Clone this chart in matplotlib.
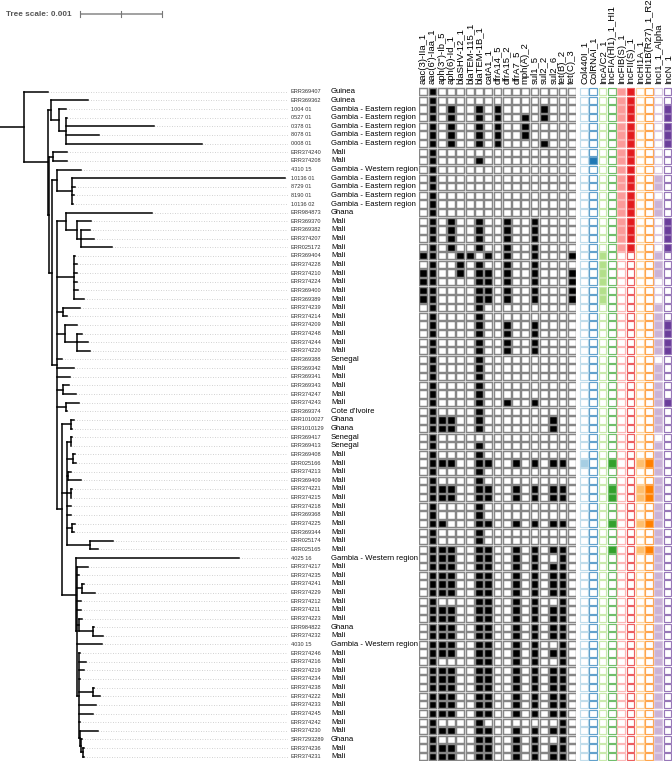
import numpy as np
import matplotlib
matplotlib.use("Agg")
import matplotlib.pyplot as plt
from matplotlib.collections import LineCollection
from matplotlib.patches import Rectangle
from matplotlib.colors import to_rgb
from matplotlib.transforms import blended_transform_factory

plt.rcParams['font.family'] = ['Liberation Sans', 'DejaVu Sans']

# tree, branch lengths in units of 1e-5 substitutions/site
UNIT = 1e-5
NEWICK = (
    "(ERR369407:30,"
    "((ERR369362:45,(1004_01:9,(0527_01:1,0378_01:107,8078_01:40,0008_01:165):9):10):4,"
    "((ERR374240:17,ERR374208:17):5,"
    "((4310_15:29,(10136_01:260,8729_01:4,8190_01:2,10136_02:1):18):6,"
    "((ERR984873:104,(ERR369370:17,(ERR369382:11,ERR374207:16,ERR025172:37):5):13):11,"
    "(ERR369404:2,ERR374228:4,ERR374210:4,ERR374224:4,ERR369400:5,ERR369389:13):20,"
    "(ERR374239:20,ERR374214:5):7,"
    "(ERR374209:15,(ERR374248:6,ERR374244:13,ERR374220:16):15):9,"
    "ERR369388:5,ERR369342:20,ERR369341:15,"
    "(ERR369343:7,ERR374247:16):7,"
    "(ERR374243:16,ERR369374:2):10,"
    "((ERR1010027:4,ERR1010129:2):11,"
    "((ERR369417:2,ERR369413:1):4,(ERR369408:2,ERR025166:4):7,(ERR374213:4,ERR369409:16):1,"
    "(ERR374221:2,ERR374215:1):4,ERR374218:4,ERR369368:5,(ERR374225:4,ERR369344:2):6,"
    "(ERR025174:28,ERR025165:9):28):7,"
    "(4025_16:198,(ERR374217:13,ERR374235:2,(ERR374241:2,ERR374229:16):6,ERR374212:5,ERR374211:5,"
    "(ERR374223:4,(ERR984822:2,ERR374232:12):17):2,4030_15:30,"
    "(ERR374246:2,ERR374216:9,ERR374219:6,ERR374234:1,(ERR374238:2,ERR374222:9):17,ERR374233:21,"
    "ERR374245:18,ERR374242:2,(ERR374230:21,(SRR7293289:1,(ERR374236:1,ERR374231:1):2):1):2):2):1):18"
    "):5):6):4):2):29):29;"
)

strains = [
    "ERR369407", "ERR369362", "1004 01", "0527 01", "0378 01", "8078 01", "0008 01",
    "ERR374240", "ERR374208", "4310 15", "10136 01", "8729 01", "8190 01", "10136 02",
    "ERR984873", "ERR369370", "ERR369382", "ERR374207", "ERR025172", "ERR369404",
    "ERR374228", "ERR374210", "ERR374224", "ERR369400", "ERR369389", "ERR374239",
    "ERR374214", "ERR374209", "ERR374248", "ERR374244", "ERR374220", "ERR369388",
    "ERR369342", "ERR369341", "ERR369343", "ERR374247", "ERR374243", "ERR369374",
    "ERR1010027", "ERR1010129", "ERR369417", "ERR369413", "ERR369408", "ERR025166",
    "ERR374213", "ERR369409", "ERR374221", "ERR374215", "ERR374218", "ERR369368",
    "ERR374225", "ERR369344", "ERR025174", "ERR025165", "4025 16", "ERR374217",
    "ERR374235", "ERR374241", "ERR374229", "ERR374212", "ERR374211", "ERR374223",
    "ERR984822", "ERR374232", "4030 15", "ERR374246", "ERR374216", "ERR374219",
    "ERR374234", "ERR374238", "ERR374222", "ERR374233", "ERR374245", "ERR374242",
    "ERR374230", "SRR7293289", "ERR374236", "ERR374231",
]

GE = "Gambia - Eastern region"
GW = "Gambia - Western region"
countries = (["Guinea"] * 2 + [GE] * 5 + ["Mali"] * 2 + [GW] + [GE] * 4 + ["Ghana"]
             + ["Mali"] * 16 + ["Senegal"] + ["Mali"] * 5 + ["Cote d'Ivoire"]
             + ["Ghana"] * 2 + ["Senegal"] * 2 + ["Mali"] * 12 + [GW]
             + ["Mali"] * 7 + ["Ghana", "Mali", GW] + ["Mali"] * 10
             + ["Ghana", "Mali", "Mali"])

amr_genes = ["aac(3)-IIa_1", "aac(6')-Iaa_1", "aph(3'')-Ib_5", "aph(6)-Id_1",
             "blaSHV-12_1", "blaTEM-115_1", "blaTEM-1B_1", "catA1_1", "dfrA14_5",
             "dfrA15_2", "dfrA7_5", "mph(A)_2", "sul1_5", "sul2_2", "sul2_6",
             "tet(B)_2", "tet(C)_3"]

plasmids = ["Col440I_1", "ColRNAI_1", "IncA/C2_1", "IncFIA(HI1)_1_HI1", "IncFIB(S)_1",
            "IncFII(S)_1", "IncHI1A_1", "IncHI1B(R27)_1_R27", "IncI1_1_Alpha", "IncN_1"]
plasmid_colors = ["#a6cee3", "#1f78b4", "#b2df8a", "#33a02c", "#fb9a99",
                  "#e31a1c", "#fdbf6f", "#ff7f00", "#cab2d6", "#6a3d9a"]

# presence / absence, one string per strain (same order as strains)
amr = [
    "01000000000000000", "01000000000000000", "01010010100001000", "01010010100101000",
    "01010010100100000", "01010010100100000", "01010010100001000", "01000000000000000",
    "01000010000000000", "01000000000000000", "01000000000000000", "01000000000000000",
    "01000000000000000", "01000000000000000", "01000000000000000", "01010010010010000",
    "01010010010010000", "01010010010010000", "01010010010010000", "11001101010010001",
    "01001010010010000", "11001011010010001", "11000011010010001", "11000011010010001",
    "11000011010010001", "01000010000000000", "01000010000000000", "01000010010010000",
    "01000010010010000", "01000010010010000", "01000010010010000", "01000010000000000",
    "01000010000000000", "01000010000000000", "01000010000000000", "01000010000000000",
    "01000010010010000", "01000010000000000", "01110010000000100", "01110010000000100",
    "01000000000000000", "01000010000000000", "01000010000000000", "01110011001010110",
    "01000010000000000", "01000010000000000", "01110011001010110", "01110011001010110",
    "01000010000000000", "01000010000000000", "01100011001010110", "01000010000000000",
    "01000010000000000", "01110011001010110", "01110011001010010", "01110011001010110",
    "01110011001010110", "01110011001010110", "01110011001010110", "01000011001010010",
    "01110011001010110", "01110011001010110", "01110011001010110", "01110011001010110",
    "01110011001010010", "01110011001010110", "01000011001010010", "01110011001010110",
    "01110011001010110", "01110011001010110", "01110011001010110", "01110011001010110",
    "01110011001010110", "01000010000000010", "01110011001010110", "01000011001010010",
    "01110011001010110", "01110011001010110",
]

plas = [
    "0000110000", "0000110000", "0000110001", "0000110001", "0000110001", "0000110001",
    "0000110001", "0000110000", "0100110000", "0000110000", "0000110010", "0000110010",
    "0000110000", "0000110010", "0000110010", "0000110001", "0000110001", "0000110001",
    "0000110001", "0010000010", "0010000010", "0010000010", "0010000000", "0010000000",
    "0010000000", "0000000010", "0000000010", "0000000011", "0000000011", "0000000011",
    "0000000011", "0000000000", "0000000010", "0000000010", "0000000010", "0000000010",
    "0000000011", "0000000010", "0000000010", "0000000010", "0000000000", "0000000010",
    "0000000010", "1001001110", "0000000010", "0000000010", "0001001110", "0001001110",
    "0000000010", "0000000010", "0001001110", "0000000010", "0000000010", "0001001110",
] + ["0000000010"] * 24


def parse_newick(s):
    pos = 0

    def node():
        nonlocal pos
        kids = []
        if s[pos] == '(':
            pos += 1
            kids.append(node())
            while s[pos] == ',':
                pos += 1
                kids.append(node())
            pos += 1
        start = pos
        while s[pos] not in ':,);':
            pos += 1
        name = s[start:pos].replace('_', ' ')
        length = 0.0
        if s[pos] == ':':
            pos += 1
            start = pos
            while s[pos] not in ',);':
                pos += 1
            length = float(s[start:pos]) * UNIT
        return {'name': name, 'len': length, 'kids': kids}

    return node()


def layout(n, x0, leaves, segs):
    x = x0 + n['len']
    if not n['kids']:
        y = len(leaves)
        leaves.append((n['name'], x, y))
    else:
        ys = [layout(k, x, leaves, segs) for k in n['kids']]
        y = (ys[0] + ys[-1]) / 2
        segs.append([(x, ys[0]), (x, ys[-1])])
    segs.append([(x0, y), (x, y)])
    return y


def lighten(c, f):
    r = np.array(to_rgb(c))
    return tuple(r + (1 - r) * f)


tree = parse_newick(NEWICK)
leaves, segs = [], []
layout(tree, 0.0, leaves, segs)
leaf_y = {name: y for name, x, y in leaves}
leaf_x = {name: x for name, x, y in leaves}

W, H = 672, 761
fig = plt.figure(figsize=(W / 100, H / 100), dpi=100)
n = len(strains)
pitch = 8.635
ax_h = n * pitch / H

# tree panel, 0.001 subst/site = 82 px
tree_w = 288
ax = fig.add_axes([0, 0, tree_w / W, ax_h])
ax.set_xlim(0, tree_w / 82 * 0.001)
ax.set_ylim(n - 0.5, -0.5)
ax.axis('off')

dots = [[(leaf_x[s], leaf_y[s]), (tree_w / 82 * 0.001, leaf_y[s])] for s in strains]
ax.add_collection(LineCollection(dots, colors='#c4c4c4', linewidths=0.6,
                                 linestyles=(0, (1, 2))))
ax.add_collection(LineCollection(segs, colors='black', linewidths=1.1,
                                 capstyle='projecting'))

tr = blended_transform_factory(ax.transAxes, ax.transData)
for s, c in zip(strains, countries):
    ax.annotate(s, (1, leaf_y[s]), xycoords=tr, xytext=(2, 0), textcoords='offset points',
                va='center', ha='left', fontsize=4.1, color='#333333', annotation_clip=False)
    ax.annotate(c, (1, leaf_y[s]), xycoords=tr, xytext=(31, 0), textcoords='offset points',
                va='center', ha='left', fontsize=5.6, color='black', annotation_clip=False)

# tree scale
sb = blended_transform_factory(ax.transData, ax.transAxes)
sy = (H - 14) / (n * pitch)
x0 = 80 / 82 * 0.001
ax.plot([x0, x0 + 0.001], [sy, sy], transform=sb, color='#9a9a9a', lw=1.3,
        clip_on=False, solid_capstyle='butt')
for xt in [x0, x0 + 0.0005, x0 + 0.001]:
    ax.plot([xt, xt], [sy - 0.004, sy + 0.004], transform=sb, color='#777777', lw=0.8,
            clip_on=False)
ax.text(x0 - 0.0001, sy, "Tree scale: 0.001", transform=sb, ha='right', va='center',
        fontsize=5.9, fontweight='bold', color='#555555', clip_on=False)

cell_pitch = 9.28
box = 0.84


def heat_panel(left, names, rows, face_on, edge, lw):
    k = len(names)
    a = fig.add_axes([left / W, 0, k * cell_pitch / W, ax_h])
    a.set_xlim(-0.5, k - 0.5)
    a.set_ylim(n - 0.5, -0.5)
    a.axis('off')
    for s, r in zip(strains, rows):
        y = leaf_y[s]
        for j, v in enumerate(r):
            fc = face_on[j] if v == '1' else 'white'
            a.add_patch(Rectangle((j - box / 2, y - box / 2), box, box, facecolor=fc,
                                  edgecolor=edge[j], linewidth=lw))
    for j, name in enumerate(names):
        a.annotate(name, (j, -0.5), xytext=(0, 2.5), textcoords='offset points',
                   rotation=90, ha='center', va='bottom', fontsize=6.8, color='black',
                   annotation_clip=False)
    return a


heat_panel(418.6, amr_genes, amr, ['black'] * len(amr_genes),
           ['#868686'] * len(amr_genes), 1.05)
heat_panel(579.4, plasmids, plas, plasmid_colors,
           [lighten(c, 0.3) for c in plasmid_colors], 0.85)

fig.savefig("out.png", dpi=100)
